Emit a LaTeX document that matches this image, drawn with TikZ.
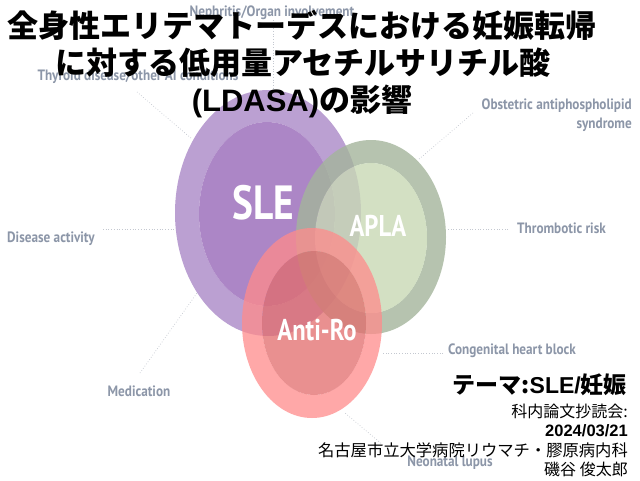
\documentclass[tikz,border=0pt]{standalone}
\usepackage{fontspec}
\setmainfont{Liberation Sans}
\newfontfamily\jp{Noto Sans CJK JP}
\newfontfamily\lblf[FakeStretch=0.88]{PT Sans}
\newfontfamily\condf[FakeStretch=0.82]{PT Sans}
\definecolor{sleout}{HTML}{BBA0D2}
\definecolor{slein}{HTML}{AC86C6}
\definecolor{aplaout}{HTML}{A4B59B}
\definecolor{aplain}{HTML}{C8D9B5}
\definecolor{roout}{HTML}{FF8B8B}
\definecolor{roin}{HTML}{E26C6C}
\definecolor{lblgray}{HTML}{8C96A8}
\definecolor{lnkgray}{HTML}{C4C8D0}
\tikzset{
  lbl/.style={font=\lblf\bfseries\fontsize{15}{17}\selectfont, text=lblgray, inner sep=0pt},
  lnk/.style={draw=lnkgray, line width=0.7pt, dotted},
  inlbl/.style={text=white, inner sep=0pt},
  titletxt/.style={font=\jp\bfseries\fontsize{31}{36}\selectfont, inner sep=0pt},
  foot/.style={anchor=east, inner sep=0pt}
}
\begin{document}
\begin{tikzpicture}[x=1pt,y=-1pt]
\useasboundingbox (0,0) rectangle (640,480);
\fill[white] (0,0) rectangle (640,480);

% labels
\node[lbl] (neph) at (272,13) {Nephritis/Organ involvement};
\node[lbl] (thy) at (138,77) {Thyroid disease/other AI conditions};
\node[lbl, align=right, anchor=north east] (obs) at (632,99) {Obstetric antiphospholipid\\[2pt]syndrome};
\node[lbl, anchor=west] (dis) at (7,239) {Disease activity};
\node[lbl, anchor=west] (thr) at (517,228) {Thrombotic risk};
\node[lbl] (med) at (139,391) {Medication};
\node[lbl, anchor=west] (chb) at (448,351) {Congenital heart block};
\node[lbl] (neo) at (450,463) {Neonatal lupus};

% connector ends on the circles
\coordinate (cneph) at (273,92);
\coordinate (cthy) at (192,139);
\coordinate (cobs) at (418,160);
\coordinate (cdis) at (176,229);
\coordinate (cthr) at (446,229);
\coordinate (cmed) at (197,293);
\coordinate (cchb) at (382,353);
\coordinate (cneo) at (345,413);

\draw[lnk] (neph.south -| cneph) -- (cneph);
\draw[lnk] (137,92) -- (cthy);
\draw[lnk] (473,113) -- (cobs);
\draw[lnk] (103,229) -- (cdis);
\draw[lnk] (508,229) -- (cthr);
\draw[lnk] (140,373) -- (cmed);
\draw[lnk] (443,353) -- (cchb);
\draw[lnk] (383,445) -- (cneo);

% SLE
\fill[sleout, even odd rule] (268,213) ellipse [x radius=93pt, y radius=123pt]
  (267,214) ellipse [x radius=68pt, y radius=92pt];
\fill[slein] (267,214) ellipse [x radius=68pt, y radius=92pt];
% APLA
\fill[aplaout, even odd rule, fill opacity=0.8] (371,237) ellipse [x radius=75pt, y radius=97pt]
  (371,238) ellipse [x radius=56pt, y radius=75pt];
\fill[aplain, fill opacity=0.8] (371,238) ellipse [x radius=56pt, y radius=75pt];
% Anti-Ro
\fill[roout, even odd rule, fill opacity=0.75] (312,323) ellipse [x radius=70pt, y radius=95pt]
  (314,323) ellipse [x radius=52pt, y radius=72pt];
\fill[roin, fill opacity=0.75] (314,323) ellipse [x radius=52pt, y radius=72pt];

\node[inlbl, font=\condf\bfseries\fontsize{48}{50}\selectfont] (sle) at (263,203) {SLE};
\node[inlbl, font=\condf\bfseries\fontsize{30}{32}\selectfont] (apla) at (378,226) {APLA};
\node[inlbl, font=\condf\bfseries\fontsize{30}{32}\selectfont] (ro) at (317,330) {Anti-Ro};

% title
\node[titletxt] (t1) at (302,25) {全身性エリテマトーデスにおける妊娠転帰};
\node[titletxt] (t2) at (303,63) {に対する低用量アセチルサリチル酸};
\node[titletxt] (t3) at (302,101) {{\fontspec{Liberation Sans}\bfseries (LDASA)}の影響};

% footer
\node[foot, font=\jp\bfseries\fontsize{23}{25}\selectfont] (theme) at (627,385) {テーマ:{\fontspec{Liberation Sans}\bfseries SLE/}妊娠};
\node[foot, font=\jp\fontsize{16}{18}\selectfont] (jc) at (628,411) {科内論文抄読会:};
\node[foot, font=\bfseries\fontsize{16.5}{18}\selectfont] (date) at (628,431) {2024/03/21};
\node[foot, font=\jp\fontsize{16.3}{18}\selectfont] (dept) at (628,450) {名古屋市立大学病院リウマチ・膠原病内科};
\node[foot, font=\jp\fontsize{16}{18}\selectfont] (name) at (628,469) {磯谷 俊太郎};
\end{tikzpicture}
\end{document}
